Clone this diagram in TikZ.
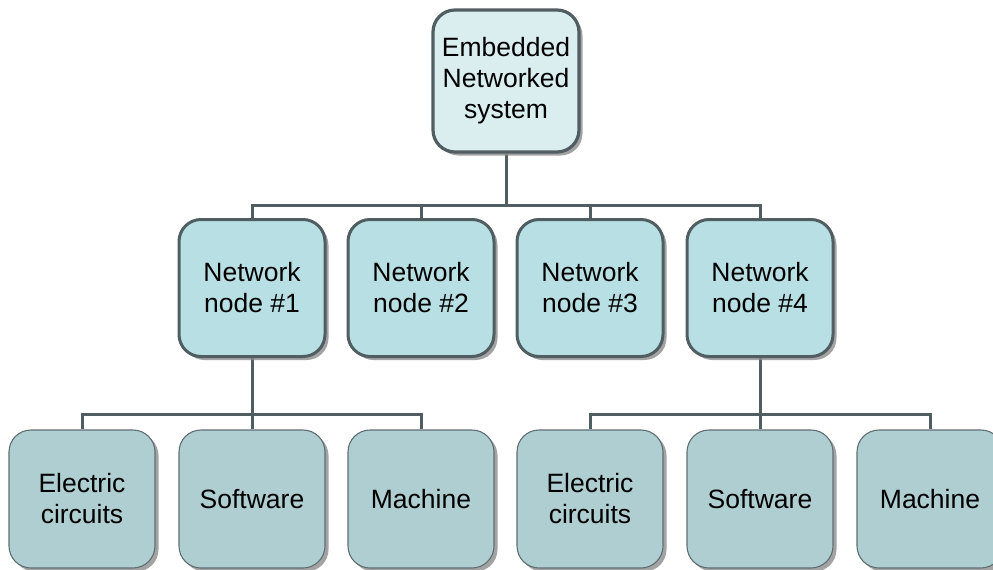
\documentclass[tikz,border=0pt]{standalone}
\usepackage{fontspec}
\setmainfont{Liberation Sans}
\usetikzlibrary{shadows,backgrounds}
\begin{document}
\begin{tikzpicture}[x=1pt,y=-1pt,
  base/.style={rounded corners=22pt, minimum width=146pt, align=center,
    font=\fontsize{26.5}{31}\selectfont, text=black, inner sep=0pt,
    drop shadow={shadow xshift=3.5pt, shadow yshift=-3.5pt, fill=black!45, opacity=0.8}},
  rootbox/.style={base, draw=edge, line width=3.2pt, fill=rootfill, minimum height=142pt},
  midbox/.style={base, draw=edge, line width=3pt, fill=midfill, minimum height=137pt},
  leafbox/.style={base, draw=leafedge, line width=1.1pt, fill=leaffill, minimum height=138pt},
  link/.style={draw=edge, line width=3pt}
]
\definecolor{edge}{RGB}{80,94,98}
\definecolor{leafedge}{RGB}{95,110,114}
\definecolor{rootfill}{RGB}{218,238,240}
\definecolor{midfill}{RGB}{184,224,228}
\definecolor{leaffill}{RGB}{174,206,209}
\useasboundingbox (0,0) rectangle (993,570);
\clip (0,0) rectangle (993,570);

\coordinate (hubA) at (506,205);
\coordinate (hubB) at (252,414);
\coordinate (hubC) at (760,414);

\node[rootbox] (root) at (506,81) {Embedded\\Networked\\system};

\node[midbox] (n1) at (252,288) {Network\\node \#1};
\node[midbox] (n2) at (421,288) {Network\\node \#2};
\node[midbox] (n3) at (590,288) {Network\\node \#3};
\node[midbox] (n4) at (760,288) {Network\\node \#4};

\node[leafbox] (a1) at (82,499) {Electric\\circuits};
\node[leafbox] (a2) at (252,499) {Software};
\node[leafbox] (a3) at (421,499) {Machine};
\node[leafbox] (b1) at (590,499) {Electric\\circuits};
\node[leafbox] (b2) at (760,499) {Software};
\node[leafbox] (b3) at (930,499) {Machine};

% tree connectors, kept behind the boxes
\begin{scope}[on background layer]
\path[link] (root.south) -- (hubA);
\path[link] (n1.north) |- (hubA) -| (n4.north);
\path[link] (n2.north) -- (n2.north |- hubA);
\path[link] (n3.north) -- (n3.north |- hubA);

\path[link] (n1.south) -- (hubB);
\path[link] (a1.north) |- (hubB) -| (a3.north);
\path[link] (a2.north) -- (hubB);

\path[link] (n4.south) -- (hubC);
\path[link] (b1.north) |- (hubC) -| (b3.north);
\path[link] (b2.north) -- (hubC);
\end{scope}
\end{tikzpicture}
\end{document}
